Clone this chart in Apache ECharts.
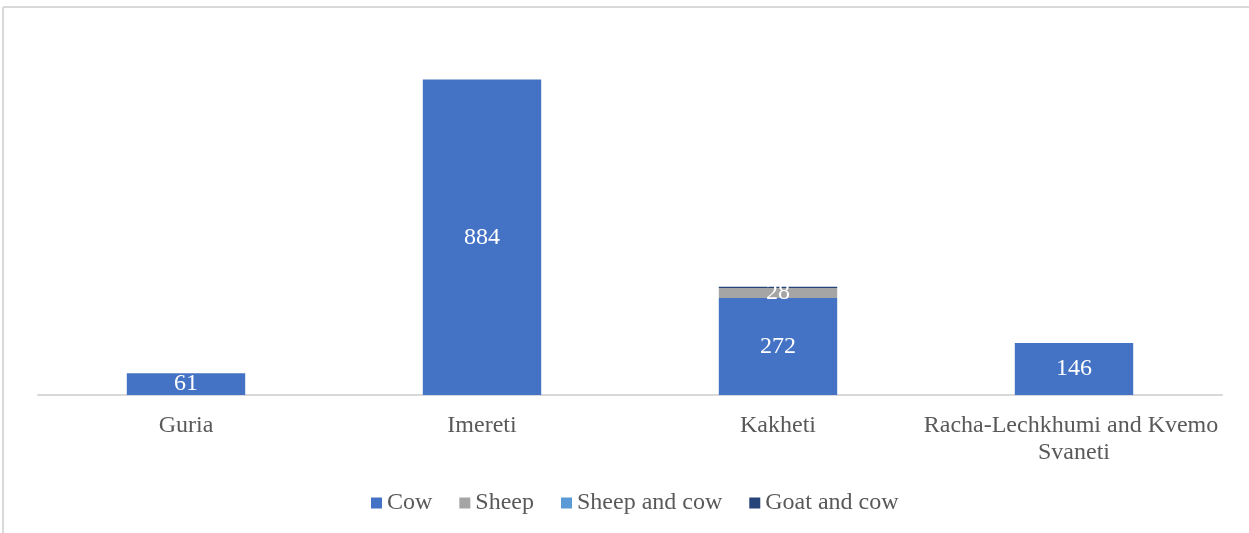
<!DOCTYPE html>
<html>
<head>
<meta charset="utf-8">
<script src="https://cdn.jsdelivr.net/npm/echarts@6/dist/echarts.min.js"></script>
<style>
html,body{margin:0;padding:0;background:#fff;}
#c{width:1249px;height:533px;}
</style>
</head>
<body>
<div id="c"></div>
<script>
const categories = ['Guria', 'Imereti', 'Kakheti', 'Racha-Lechkhumi and Kvemo Svaneti'];
const cow = [61, 884, 272, 146];
const sheep = [0, 0, 28, 0];
const sheepAndCow = [0, 0, 0, 0];
const goatAndCow = [0, 0, 3, 0];

const font = '"Liberation Serif", "Times New Roman", serif';
const chart = echarts.init(document.getElementById('c'));
function lbl(show) {
  return {
    show: show,
    position: 'inside',
    color: '#ffffff',
    fontFamily: font,
    fontSize: 24,
    padding: [4, 0, 0, 0],
    formatter: p => (p.value > 0 ? p.value : '')
  };
}
chart.setOption({
  animation: false,
  backgroundColor: '#ffffff',
  graphic: [
    { type: 'line', shape: { x1: 3, y1: 7, x2: 1249, y2: 7 }, style: { stroke: '#d9d9d9', lineWidth: 2 } },
    { type: 'line', shape: { x1: 3, y1: 7, x2: 3, y2: 533 }, style: { stroke: '#d9d9d9', lineWidth: 2 } }
  ],
  grid: { left: 38, right: 27, top: 38, bottom: 138, containLabel: false },
  legend: {
    bottom: 13,
    left: 366,
    itemWidth: 11,
    itemHeight: 11,
    itemGap: 27,
    icon: 'rect',
    textStyle: { color: '#595959', fontFamily: font, fontSize: 24 },
    data: ['Cow', 'Sheep', 'Sheep and cow', 'Goat and cow']
  },
  xAxis: {
    type: 'category',
    data: categories,
    axisLine: { lineStyle: { color: '#d9d9d9', width: 2 } },
    axisTick: { show: false },
    axisLabel: {
      color: '#595959',
      fontFamily: font,
      fontSize: 24,
      margin: 17,
      lineHeight: 27,
      width: 310,
      overflow: 'break',
      interval: 0
    }
  },
  yAxis: {
    type: 'value',
    min: 0,
    max: 1000,
    show: false,
    splitLine: { show: false }
  },
  series: [
    { name: 'Cow', type: 'bar', stack: 'a', data: cow, barWidth: '40%', itemStyle: { color: '#4472c4' }, label: lbl(true) },
    { name: 'Sheep', type: 'bar', stack: 'a', data: sheep, itemStyle: { color: '#a5a5a5' }, label: lbl(true) },
    { name: 'Sheep and cow', type: 'bar', stack: 'a', data: sheepAndCow, itemStyle: { color: '#5b9bd5' }, label: lbl(false) },
    { name: 'Goat and cow', type: 'bar', stack: 'a', data: goatAndCow, itemStyle: { color: '#264478' }, label: lbl(false) }
  ]
});
</script>
</body>
</html>
